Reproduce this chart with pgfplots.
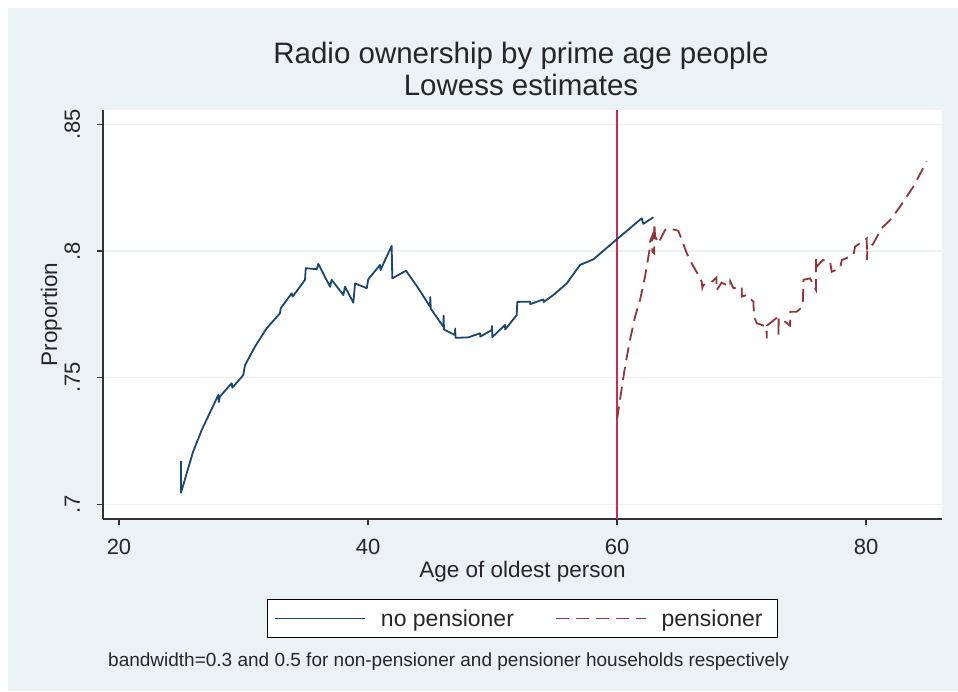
\documentclass[border=0pt]{standalone}
\usepackage{fontspec}
\setmainfont{Liberation Sans}
\usepackage{pgfplots}
\pgfplotsset{compat=1.18}
\definecolor{stbg}{RGB}{234,242,243}
\definecolor{stnavy}{RGB}{26,71,111}
\definecolor{stmaroon}{RGB}{144,53,59}
\definecolor{stred}{RGB}{204,41,84}
\newcommand{\fs}[1]{\fontsize{#1}{#1}\selectfont}
\begin{document}
\begin{tikzpicture}
\fill[white] (0pt,0pt) rectangle (958pt,691pt);
\fill[stbg] (8pt,0pt) rectangle (958pt,683pt);
\node[anchor=base, font=\fs{29.5}, text=black!85] at (521pt,627pt) {Radio ownership by prime age people};
\node[anchor=base, font=\fs{29.5}, text=black!85] at (521pt,595pt) {Lowess estimates};
\node[anchor=base west, font=\fs{19}, inner sep=0pt, text=black!85] at (108pt,25pt) {bandwidth=0.3 and 0.5 for non-pensioner and pensioner households respectively};
\begin{axis}[
  at={(103pt,172pt)}, anchor=south west,
  scale only axis, width=839pt, height=409pt,
  xmin=18.715, xmax=86.10, ymin=0.6942, ymax=0.85565,
  axis x line*=bottom, axis y line*=left,
  axis line style={-, line width=1.3pt, black!80},
  axis background/.style={fill=white},
  xtick={20,40,60,80},
  ytick={0.7,0.75,0.8,0.85}, yticklabels={.7,.75,.8,.85},
  tick align=outside, major tick length=6pt,
  tick style={line width=1.3pt, black!80},
  ymajorgrids, grid style={stbg, line width=1.5pt},
  /pgf/number format/assume math mode=true,
  ticklabel style={font=\fs{22}, text=black!85},
  xticklabel style={anchor=base, yshift=-29pt},
  yticklabel style={rotate=90, anchor=base, yshift=17pt},
  xlabel={Age of oldest person},
  xlabel style={font=\fs{22.5}, text=black!85, at={(axis description cs:0.5,0)}, anchor=base, yshift=-58pt},
  ylabel={Proportion},
  ylabel style={font=\fs{22.5}, text=black!85, at={(axis description cs:0,0.5)}, anchor=base, yshift=46pt},
  legend columns=2,
  legend style={at={(0.5,-0.2433)}, anchor=center, draw=black, line width=1.2pt, fill=white,
    font=\fs{23}, inner xsep=7pt, inner ysep=10pt,
    nodes={inner sep=0pt, text=black!85},
    /tikz/every odd column/.append style={column sep=15pt},
    /tikz/every even column/.append style={column sep=41pt}},
  legend image code/.code={\draw[#1, line width=1.6pt] (0pt,0pt) -- (90pt,0pt);},
]
\addplot[stred, line width=1.5pt, forget plot] coordinates {(60,0.6942) (60,0.85565)};
\addplot[stnavy, line width=1.8pt, line join=round] coordinates {
(24.98,0.7171) (24.98,0.7046) (25.94,0.7206) (26.64,0.7293) (27.98,0.7432) (28.02,0.7404) (28.10,0.7425)
(29.05,0.7478) (29.10,0.7460) (29.98,0.7510) (30.12,0.7549) (30.92,0.7622) (31.86,0.7695)
(32.93,0.7754) (32.99,0.7774) (33.87,0.7833) (33.95,0.7820) (34.94,0.7886) (35.00,0.7932)
(35.88,0.7928) (36.01,0.7949) (36.95,0.7859) (37.08,0.7886) (38.02,0.7826) (38.15,0.7859)
(38.82,0.7796) (38.96,0.7872) (39.90,0.7853) (40.02,0.7888) (40.96,0.7945) (41.00,0.7925)
(41.90,0.8020) (41.95,0.7892) (43.05,0.7922) (44.04,0.7853) (44.98,0.7780) (45.00,0.7818)
(45.04,0.7772) (46.05,0.7701) (46.07,0.7745) (46.10,0.7690) (46.99,0.7668) (47.00,0.7694)
(47.03,0.7657) (48.06,0.7659) (49.00,0.7675) (49.02,0.7662) (49.94,0.7688) (49.96,0.7704)
(49.98,0.7660) (51.00,0.7708) (51.02,0.7690) (51.94,0.7747) (51.99,0.7799) (53.01,0.7800)
(53.03,0.7790) (54.08,0.7809) (54.10,0.7798) (54.88,0.7826) (55.96,0.7872) (57.03,0.7945)
(58.10,0.7967) (59.98,0.8046) (61.98,0.8129) (62.11,0.8107) (62.92,0.8133)
};
\addlegendentry{no pensioner}
\addplot[stmaroon, line width=1.8pt, dash pattern=on 13pt off 7pt] coordinates {
(60.00,0.7335) (60.64,0.7543) (61.04,0.7649) (61.45,0.7741) (61.85,0.7807) (62.25,0.7899)
(62.52,0.7978) (62.65,0.8017) (62.66,0.8040) (62.83,0.8060) (62.84,0.7997) (62.99,0.7990)
(63.00,0.8109) (63.05,0.8060) (63.31,0.8030) (63.86,0.8083) (64.12,0.8090) (64.92,0.8080)
(65.60,0.7991) (66.00,0.7951) (66.53,0.7905) (66.80,0.7879) (66.85,0.7855) (66.93,0.7866)
(67.47,0.7872) (67.99,0.7895) (68.00,0.7845) (68.40,0.7875) (69.08,0.7859) (69.10,0.7880)
(69.34,0.7853) (70.01,0.7859) (70.03,0.7820) (70.41,0.7826) (70.95,0.7800) (71.00,0.7741)
(71.22,0.7715) (72.01,0.7701) (72.02,0.7655) (72.03,0.7705) (72.96,0.7741) (72.97,0.7662)
(72.98,0.7735) (73.30,0.7728) (73.90,0.7705) (73.91,0.7760) (74.42,0.7760) (74.91,0.7780)
(74.96,0.7859) (74.97,0.7886) (75.50,0.7892) (75.98,0.7846) (75.99,0.7971) (76.04,0.7938)
(76.52,0.7964) (77.11,0.7958) (77.24,0.7918) (77.91,0.7932) (78.05,0.7964) (78.98,0.7984)
(79.12,0.8017) (80.06,0.8050) (80.07,0.7964) (80.10,0.8000) (80.59,0.8030) (81.26,0.8090)
(81.93,0.8122) (82.73,0.8175) (83.80,0.8254) (84.87,0.8353)
};
\addlegendentry{pensioner\kern8pt}
\end{axis}
\pgfresetboundingbox
\path[use as bounding box] (0pt,0pt) rectangle (958pt,691pt);
\end{tikzpicture}
\end{document}
